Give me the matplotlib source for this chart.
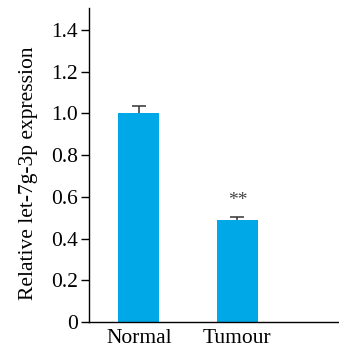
import numpy as np
import matplotlib.pyplot as plt

groups = ['Normal', 'Tumour']
values = [1.0, 0.49]
errors = [0.035, 0.012]
y_ticks = [0, 0.2, 0.4, 0.6, 0.8, 1.0, 1.2, 1.4]
y_tick_labels = ['0', '0.2', '0.4', '0.6', '0.8', '1.0', '1.2', '1.4']
sig_marks = ['', '**']

plt.rcParams['font.family'] = ['Liberation Serif', 'DejaVu Serif']

fig = plt.figure(figsize=(3.39, 3.52), dpi=100)
ax = fig.add_axes([0.263, 0.085, 0.734, 0.892])

x = np.arange(len(groups))
ax.bar(x, values, width=0.417, color='#00a8e8', zorder=2)

# upper error only: stem + top cap
tops = np.array(values) + np.array(errors)
ax.vlines(x, values, tops, color='#333333', lw=1.1, zorder=3)
ax.hlines(tops, x - 0.07, x + 0.07, color='#333333', lw=1.1, zorder=3)

for xi, t, s in zip(x, tops, sig_marks):
    if s:
        ax.text(xi, t + 0.04, s, ha='center', va='bottom', fontsize=14, color='#444444')

ax.set_xlim(-0.503, 2.02)
ax.set_ylim(0, 1.505)
ax.set_xticks(x)
ax.set_xticklabels(groups, fontsize=15.5)
ax.set_yticks(y_ticks)
ax.set_yticklabels(y_tick_labels, fontsize=15.5)
ax.tick_params(axis='x', length=0, pad=5)
ax.tick_params(axis='y', length=6, width=1, pad=2)
ax.set_ylabel('Relative let-7g-3p expression', fontsize=15.5, labelpad=11)
ax.yaxis.set_label_coords(-0.205, 0.473)

for side in ['top', 'right']:
    ax.spines[side].set_visible(False)
for side in ['left', 'bottom']:
    ax.spines[side].set_linewidth(1.0)

fig.savefig('out.png', dpi=100)
